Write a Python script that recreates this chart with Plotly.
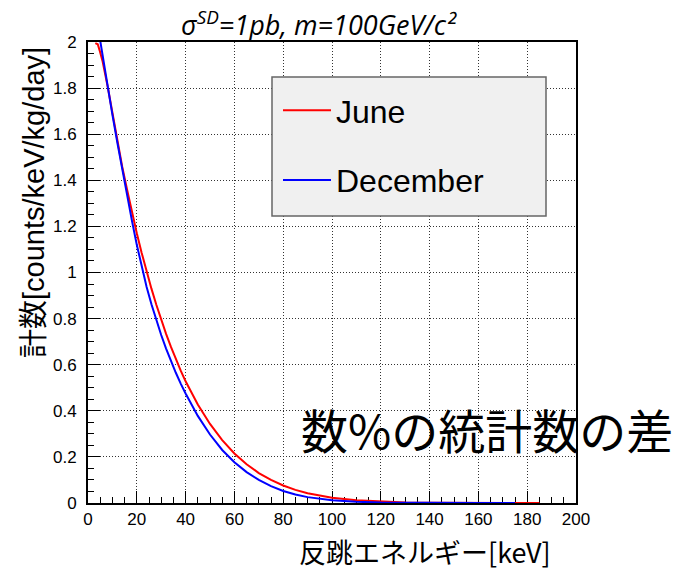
import plotly.graph_objects as go

# --- data ---
energy_june = [3, 4, 5, 6, 8, 10, 12, 14, 16, 18, 20, 22, 24, 26, 28, 30, 32, 34, 36, 38,
               40, 45, 50, 55, 60, 65, 70, 75, 80, 85, 90, 100, 110, 120, 130, 140,
               150, 160, 170, 185]
rate_june = [1.995, 1.99, 1.955, 1.915, 1.81, 1.69, 1.57, 1.46, 1.36, 1.26, 1.17, 1.085,
             1.005, 0.93, 0.86, 0.795, 0.734, 0.677, 0.624, 0.574, 0.528, 0.427, 0.343,
             0.273, 0.215, 0.168, 0.130, 0.100, 0.076, 0.057, 0.042, 0.0225, 0.0115,
             0.0056, 0.0026, 0.0011, 0.00045, 0.00017, 0.00005, 0.0]

energy_dec = [4, 6, 8, 10, 12, 14, 16, 18, 20, 22, 24, 26, 28, 30, 32, 34, 36, 38,
              40, 45, 50, 55, 60, 65, 70, 75, 80, 85, 90, 100, 110, 120, 130, 140,
              150, 160, 175]
rate_dec = [2.07, 1.935, 1.81, 1.685, 1.565, 1.448, 1.335, 1.225, 1.12, 1.025, 0.938,
            0.862, 0.793, 0.729, 0.670, 0.615, 0.565, 0.518, 0.475, 0.378, 0.297, 0.230,
            0.177, 0.134, 0.100, 0.073, 0.052, 0.037, 0.0255, 0.0118, 0.0052, 0.0022,
            0.0009, 0.0003, 0.0001, 0.00003, 0.0]

series_names = ["June", "December"]
series_colors = ["#ff0000", "#0000ff"]

x_ticks = [0, 20, 40, 60, 80, 100, 120, 140, 160, 180, 200]
y_ticks = [0, 0.2, 0.4, 0.6, 0.8, 1, 1.2, 1.4, 1.6, 1.8, 2]

title_text = "<i>σ<sup>SD</sup>=1pb, m=100GeV/c²</i>"
x_title = "反跳エネルギー[keV]"
y_title = "計数[counts/keV/kg/day]"
note_text = "数%の統計数の差"

W, H = 683, 572
L, R, T, B = 88, 107, 42, 69
pw, ph = W - L - R, H - T - B


def px(xp):
    return (xp - L) / pw


def py(yp):
    return (H - B - yp) / ph


fig = go.Figure()
for xs, ys, name, col, grp in [(energy_june, rate_june, series_names[0], series_colors[0], "a"),
                               (energy_dec, rate_dec, series_names[1], series_colors[1], "b")]:
    fig.add_trace(go.Scatter(x=xs, y=ys, mode="lines", name=name, legendgroup=grp,
                             line=dict(color=col, width=2)))

tickfont = dict(family="Liberation Sans, Arial, sans-serif", size=17, color="black")
axis_common = dict(
    ticks="inside", ticklen=12, tickwidth=1, tickcolor="black",
    showgrid=True, gridcolor="#333", griddash="1px,2px", gridwidth=1,
    showline=True, linecolor="black", linewidth=2, mirror=True,
    zeroline=False, tickfont=tickfont, layer="below traces",
)

fig.update_xaxes(range=[0, 200], tickvals=x_ticks, ticklabelstandoff=0,
                 minor=dict(dtick=5, ticks="inside", ticklen=6, tickcolor="black",
                            tickwidth=1, showgrid=False),
                 **axis_common)
fig.update_yaxes(range=[0, 2], tickvals=y_ticks, ticklabelstandoff=6,
                 minor=dict(dtick=0.05, ticks="inside", ticklen=6, tickcolor="black",
                            tickwidth=1, showgrid=False),
                 **axis_common)

fig.add_shape(type="rect", xref="paper", yref="paper",
              x0=px(272), x1=px(546), y0=py(216), y1=py(77),
              fillcolor="#f0f0f0", line=dict(color="#666", width=1.5), layer="above")

fig.add_annotation(text=title_text, xref="paper", yref="paper", x=px(319), y=py(23),
                   xanchor="center", yanchor="middle", showarrow=False,
                   font=dict(family="Open Sans, sans-serif", size=27, color="black"))
fig.add_annotation(text=y_title, xref="paper", yref="paper", x=px(34), y=py(203),
                   xanchor="center", yanchor="middle", showarrow=False, textangle=-90,
                   font=dict(family="Liberation Sans, Noto Sans CJK JP", size=29, color="black"))
fig.add_annotation(text=x_title, xref="paper", yref="paper", x=px(553), y=py(551),
                   xanchor="right", yanchor="middle", showarrow=False,
                   font=dict(family="Noto Sans CJK JP", size=27, color="black"))
fig.add_annotation(text=note_text, xref="paper", yref="paper", x=px(299), y=py(428),
                   xanchor="left", yanchor="middle", showarrow=False,
                   font=dict(family="Noto Sans CJK JP", size=47, color="black"))

fig.update_layout(
    width=W, height=H,
    margin=dict(l=L, r=R, t=T, b=B, pad=0),
    paper_bgcolor="white", plot_bgcolor="white",
    showlegend=True,
    legend=dict(x=px(278), y=py(83), xanchor="left", yanchor="top",
                bgcolor="rgba(0,0,0,0)", borderwidth=0, tracegroupgap=25,
                itemwidth=48,
                font=dict(family="Liberation Sans, Arial, sans-serif", size=32, color="black")),
)

fig.write_html("out.html")
